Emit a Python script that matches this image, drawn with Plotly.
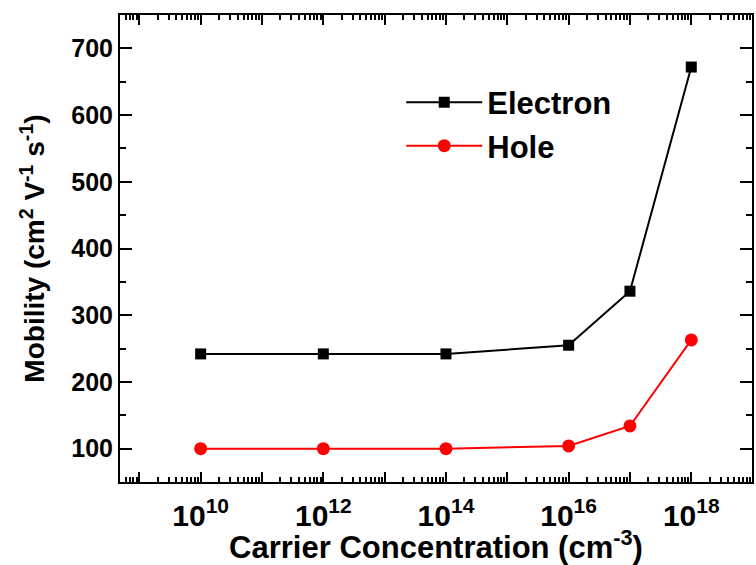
import plotly.graph_objects as go

conc = [1e10, 1e12, 1e14, 1e16, 1e17, 1e18]
electron = [242, 242, 242, 255, 336, 672]
hole = [100, 100, 100, 104, 134, 263]

x_tickvals = [10**k for k in range(9, 20)]
x_ticktext = [f"10<sup>{k}</sup>" if k % 2 == 0 else "" for k in range(9, 20)]
x_minor = [m * 10**k for k in range(8, 19) for m in range(2, 10)]
y_tickvals = [100, 200, 300, 400, 500, 600, 700]
y_minor = [150, 250, 350, 450, 550, 650, 750]

FONT = "Liberation Sans, Arial, sans-serif"
XR = [8.685, 18.99]
YR = [50, 750]

fig = go.Figure()
fig.add_trace(go.Scatter(x=conc, y=electron, mode="lines+markers", name="<b>Electron</b>",
                         line=dict(color="black", width=2),
                         marker=dict(symbol="square", size=11, color="black")))
fig.add_trace(go.Scatter(x=conc, y=hole, mode="lines+markers", name="<b>Hole</b>",
                         line=dict(color="#ff0000", width=2),
                         marker=dict(symbol="circle", size=13, color="#ff0000")))
# invisible trace carrying the minor-tick overlay axes
fig.add_trace(go.Scatter(x=conc, y=hole, xaxis="x2", yaxis="y2", mode="markers",
                         marker=dict(opacity=0), showlegend=False, hoverinfo="skip"))

fig.update_layout(
    width=756, height=565,
    paper_bgcolor="white", plot_bgcolor="white",
    margin=dict(l=120, r=2, t=15, b=83),
    font=dict(family=FONT, color="black"),
    showlegend=True,
    legend=dict(x=0.445, y=0.87, xanchor="left", yanchor="top",
                font=dict(size=31, family=FONT, color="black"),
                bgcolor="rgba(0,0,0,0)", itemwidth=76, tracegroupgap=0),
    xaxis2=dict(type="log", range=XR, overlaying="x", side="bottom", anchor="y2",
                tickmode="array", tickvals=x_minor, ticks="inside", ticklen=5,
                tickwidth=1.5, tickcolor="black", showticklabels=False,
                showline=False, mirror="ticks", showgrid=False, zeroline=False),
    yaxis2=dict(range=YR, overlaying="y", side="right", anchor="x2",
                tickmode="array", tickvals=y_minor, ticks="inside", ticklen=6,
                tickwidth=2, tickcolor="black", showticklabels=False,
                showline=False, mirror="ticks", showgrid=False, zeroline=False),
)

fig.update_layout(xaxis=dict(
    type="log", range=XR,
    tickmode="array", tickvals=x_tickvals, ticktext=x_ticktext,
    ticks="inside", ticklen=10, tickwidth=2, tickcolor="black",
    showline=True, linewidth=2, linecolor="black", mirror="allticks",
    showgrid=False, zeroline=False,
    ticklabelstandoff=6,
    tickfont=dict(size=30, family=FONT, color="black", weight="bold"),
    title=dict(text="<b>Carrier Concentration (cm<sup>-3</sup>)</b>",
               font=dict(size=31, family=FONT, color="black"), standoff=2),
))

fig.update_layout(yaxis=dict(
    range=YR, tickmode="array", tickvals=y_tickvals,
    ticks="inside", ticklen=12, tickwidth=2, tickcolor="black",
    showline=True, linewidth=2, linecolor="black", mirror="allticks",
    showgrid=False, zeroline=False,
    tickfont=dict(size=25, family=FONT, color="black", weight="bold"),
    title=dict(text="<b>Mobility (cm<sup>2</sup> V<sup>-1</sup> s<sup>-1</sup>)</b>",
               font=dict(size=28, family=FONT, color="black"), standoff=18),
))

fig.write_html("out.html")
